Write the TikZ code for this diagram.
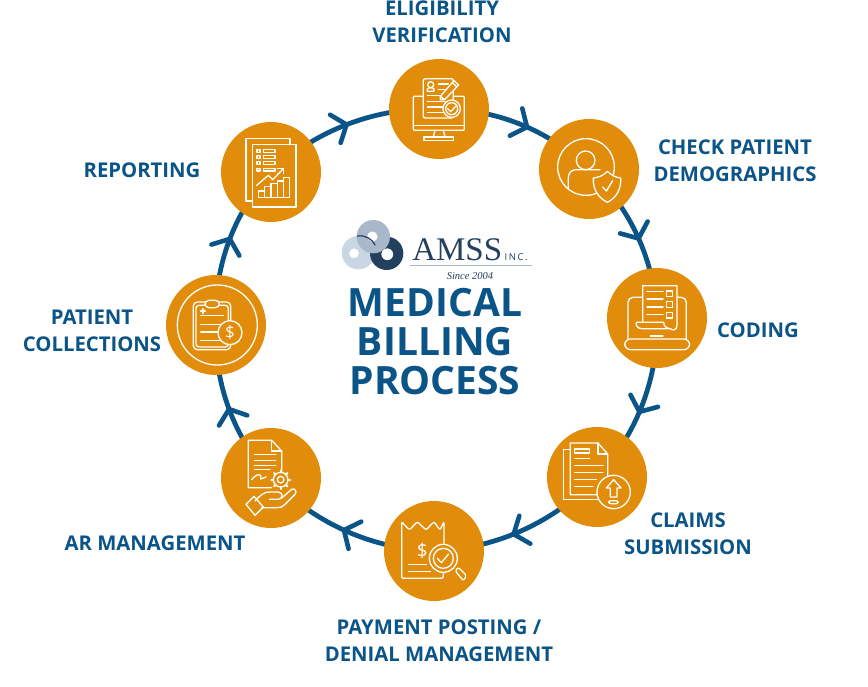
\documentclass[tikz,border=0pt]{standalone}
\usepackage{fontspec}
\setmainfont{Open Sans}
\newfontfamily\serifrm{Liberation Serif}
\usetikzlibrary{arrows.meta,decorations.markings,bending}
\pgfdeclarelayer{back}
\pgfsetlayers{back,main}
\definecolor{navy}{HTML}{0B5488}
\definecolor{amber}{HTML}{E18D0B}
\definecolor{ringa}{HTML}{C9D6E3}
\definecolor{ringb}{HTML}{A8B8C9}
\definecolor{ringc}{HTML}{24405F}
\tikzset{
  x=1pt,y=-1pt,
  disc/.style={circle,fill=amber,draw=none,minimum size=100pt,inner sep=0pt},
  lab/.style={text=navy,font=\fontsize{20.3}{27}\selectfont\bfseries,align=center,inner sep=0pt},
  headline/.style={text=navy,font=\fontsize{39}{39}\selectfont\bfseries,align=center,inner sep=0pt},
  link/.style n args={1}{draw=navy,line width=4.8pt,postaction={decorate},
    decoration={markings,mark=at position #1 with {\arrow[line width=4.6pt]{Straight Barb[length=12pt,width=30pt,round]}}}},
  arcto/.style={bend left=22.5,looseness=.886},
  icon/.style n args={3}{shift={(#1.center)},x=.33333pt,y=-.33333pt,shift={(-#2,-#3)},
    draw=white,line width=1.3pt,line cap=round,line join=round},
  wf/.style={fill=amber},
  dollar/.style={draw=none,text=white,inner sep=0pt,font=\fontsize{#1}{#1}\selectfont},
}
\begin{document}
\begin{tikzpicture}
\useasboundingbox (0,0) rectangle (868,687);
% discs
\node[disc] (elig) at (439,109) {};
\node[disc] (check) at (589,169) {};
\node[disc] (cod) at (657,318) {};
\node[disc] (claim) at (597,477) {};
\node[disc] (pay) at (434,551) {};
\node[disc] (ar) at (271,478) {};
\node[disc] (coll) at (216,325) {};
\node[disc] (rep) at (271,172) {};
% connectors
\begin{pgfonlayer}{back}
\fill[white] (0,0) rectangle (868,687);
\path[link=.5] (rep.center) to[arcto] (elig.center);
\path[link=.56] (elig.center) to[arcto] (check.center);
\path[link=.525] (check.center) to[arcto] (cod.center);
\path[link=.565] (cod.center) to[arcto] (claim.center);
\path[link=.567] (claim.center) to[arcto] (pay.center);
\path[link=.52] (pay.center) to[arcto] (ar.center);
\path[link=.5] (ar.center) to[arcto] (coll.center);
\path[link=.54] (coll.center) to[arcto] (rep.center);
\end{pgfonlayer}
% labels
\node[lab] (t1) at (442,21.5) {ELIGIBILITY\\VERIFICATION};
\node[lab] (t2) at (735,160.5) {CHECK PATIENT\\DEMOGRAPHICS};
\node[lab] (t3) at (758,330) {CODING};
\node[lab] (t4) at (688,533.5) {CLAIMS\\SUBMISSION};
\node[lab] (t5) at (439,640.5) {PAYMENT POSTING /\\DENIAL MANAGEMENT};
\node[lab] (t6) at (155,543) {AR MANAGEMENT};
\node[lab] (t7) at (92,330.5) {PATIENT\\COLLECTIONS};
\node[lab] (t8) at (142,170) {REPORTING};
\node[headline] (title) at (435,342) {MEDICAL\\BILLING\\PROCESS};
% logo
\coordinate (lg) at (330,200);
\begin{scope}[icon={lg}{0}{0},draw=none]
  \fill[ringa,even odd rule] (85,158) circle[radius=50] (72,160) circle[radius=15];
  \fill[ringc,even odd rule] (170,160) circle[radius=50] (172,163) circle[radius=18];
  \fill[ringb,even odd rule] (130,110) circle[radius=50] (127,110) circle[radius=16];
  \draw[ringc,line width=1.2pt] (82,108) .. controls (105,105) and (125,115) .. (135,135);
  \draw[ringb,line width=1pt] (240,198) -- (605,198);
  \node[draw=none,text=ringc,inner sep=0pt,anchor=base west,font=\serifrm\fontsize{33}{33}\selectfont] (amss) at (245,182) {AMSS};
  \node[draw=none,text=ringc,inner sep=0pt,anchor=base west,font=\fontsize{9.5}{10}\selectfont] (inc) at (522,183) {I\,N\,C\,.};
  \node[draw=none,text=ringc,inner sep=0pt,font=\serifrm\itshape\fontsize{10.5}{11}\selectfont] (since) at (420,228) {Since 2004};
\end{scope}
% icon: eligibility
\begin{scope}[icon={elig}{177}{178}]
  \draw[rounded corners=1pt] (100,140) rectangle (253,242);
  \draw (100,228) -- (253,228);
  \draw (165,242) -- (160,262) (190,242) -- (195,262);
  \draw (132,262) rectangle (220,272);
  \draw[wf,rounded corners=2pt] (130,87) -- (220,87) -- (220,205) -- (130,205) -- cycle;
  \draw (152,105) circle[radius=9];
  \draw (142,125) -- (142,118) .. controls (145,113) and (159,113) .. (162,118) -- (162,125) -- cycle;
  \draw (175,103) -- (205,103) (175,119) -- (195,119) (142,138) -- (190,138) (142,155) -- (195,155) (142,172) -- (190,172) (142,189) -- (190,189);
  \draw[wf] (181,140) -- (222,93) -- (236,106) -- (194,150) -- (181,150) -- cycle;
  \draw (217,99) -- (231,112) (194,150) -- (181,140);
  \draw[wf] (215,177) circle[radius=26];
  \draw (215,177) circle[radius=18];
  \draw (203,177) -- (212,186) -- (228,169);
\end{scope}
% icon: check patient
\begin{scope}[icon={check}{627}{358}]
  \draw (618,352) circle[radius=85];
  \draw (617,332) circle[radius=28];
  \draw (565,415) -- (565,385) .. controls (565,368) and (575,360) .. (590,360) -- (660,360);
  \draw[wf] (682,365) .. controls (695,378) and (710,384) .. (722,385) .. controls (724,420) and (708,445) .. (682,458) .. controls (656,445) and (638,420) .. (640,385) .. controls (654,384) and (670,378) .. cycle;
  \draw (668,412) -- (679,424) -- (698,393);
\end{scope}
% icon: coding
\begin{scope}[icon={cod}{380}{175}]
  \draw[rounded corners=5pt] (293,238) -- (293,113) -- (468,113) -- (468,238);
  \draw[rounded corners=6pt] (283,238) -- (478,238) -- (478,270) -- (283,270) -- cycle;
  \draw (360,229) -- (398,229);
  \draw[wf] (337,188) -- (337,78) -- (440,78) -- (440,195) .. controls (440,215) and (425,212) .. (420,207) -- (335,207) .. controls (322,207) and (316,198) .. (318,188) -- (400,188) .. controls (400,200) and (410,207) .. (420,207);
  \draw (350,95) -- (398,95) (350,118) -- (398,118) (350,142) -- (398,142) (350,165) -- (398,165);
  \draw (408,94) rectangle (426,111) (408,126) rectangle (426,143) (408,158) rectangle (426,175);
\end{scope}
% icon: claims
\begin{scope}[icon={claim}{200}{652}]
  \draw (120,570) -- (100,570) -- (100,720) -- (210,720);
  \draw[wf] (120,550) -- (203,550) -- (232,583) -- (232,705) -- (120,705) -- cycle;
  \draw (203,550) -- (203,583) -- (232,583);
  \draw (133,568) rectangle (177,580);
  \draw (133,597) -- (178,597) (133,617) -- (218,617) (133,638) -- (218,638) (133,660) -- (198,660) (133,680) -- (188,680);
  \draw[wf] (250,697) circle[radius=50];
  \draw (250,660) -- (228,685) -- (240,685) -- (240,712) -- (260,712) -- (260,685) -- (272,685) -- cycle;
  \draw[rounded corners=2pt] (235,723) rectangle (263,732);
\end{scope}
% icon: payment
\begin{scope}[icon={pay}{672}{363}]
  \draw[rounded corners=2pt] (702,345) -- (702,275) -- (690,300) -- (672,275) -- (648,300) -- (622,275) -- (598,300) -- (575,275) -- (575,445) -- (700,445) -- (700,425);
  \node[dollar=19] (d1) at (637,362) {\$};
  \draw (595,403) -- (650,403) (595,424) -- (662,424);
  \draw[wf] (700,385) circle[radius=42];
  \draw (700,385) circle[radius=30];
  \draw (682,385) -- (694,398) -- (716,372);
  \draw[rounded corners=2pt] (735,422) -- (745,412) -- (770,437) -- (760,452) -- cycle;
\end{scope}
% icon: AR
\begin{scope}[icon={ar}{183}{143}]
  \draw (185,172) -- (115,172) -- (115,30) -- (185,30) -- (215,62) -- (215,125);
  \draw (185,30) -- (185,62) -- (215,62);
  \draw (133,72) -- (197,72) (133,90) -- (197,90) (133,105) -- (197,105) (133,118) -- (180,118);
  \draw (125,148) .. controls (135,135) and (145,130) .. (152,135) .. controls (155,140) and (148,150) .. (155,145) -- (168,140);
  \draw[wf] (212,148) circle[radius=22];
  \foreach \a in {0,45,...,315} \draw[line width=2.2pt] (212,148) ++(\a:22) -- ++(\a:6);
  \draw (212,148) circle[radius=10];
  \draw[wf] (108,222) -- (132,198) -- (160,230) -- (135,255) -- cycle;
  \draw (135,212) .. controls (150,195) and (165,183) .. (180,185) -- (205,185) .. controls (222,187) and (218,207) .. (205,207) -- (178,207);
  \draw (215,203) -- (245,177) .. controls (255,172) and (262,185) .. (255,192) -- (225,222) .. controls (220,230) and (210,232) .. (200,232) -- (155,232);
\end{scope}
% icon: collections
\begin{scope}[icon={coll}{168}{614}]
  \draw (172,614) circle[radius=120];
  \draw[rounded corners=4pt] (100,545) rectangle (212,688);
  \draw[rounded corners=3pt] (108,555) rectangle (205,680);
  \draw[wf,rounded corners=4pt] (135,540) rectangle (178,562);
  \draw (122,572) -- (136,572) (129,565) -- (129,579);
  \draw (122,585) -- (190,585) (122,612) -- (190,612) (122,635) -- (190,635) (122,660) -- (190,660);
  \draw[wf] (210,637) circle[radius=36];
  \node[dollar=17] (d2) at (210,637) {\$};
\end{scope}
% icon: reporting
\begin{scope}[icon={rep}{333}{155}]
  \draw (277,242) -- (258,242) -- (258,55) -- (390,55) -- (390,73);
  \draw (277,73) rectangle (408,260);
  \foreach \yy in {92,110,128,148} {
    \draw (291,\yy-4) rectangle (300,\yy+4);
    \draw (310,\yy-4) rectangle (345,\yy+4);
  }
  \draw (290,195) -- (325,165) -- (338,178) -- (370,145);
  \draw (352,145) -- (370,145) -- (370,160);
  \draw (296,212) rectangle (314,232);
  \draw (314,198) rectangle (333,232);
  \draw (333,190) rectangle (352,232);
  \draw (352,182) rectangle (370,232);
  \draw (370,172) rectangle (388,232);
\end{scope}
\end{tikzpicture}
\end{document}
